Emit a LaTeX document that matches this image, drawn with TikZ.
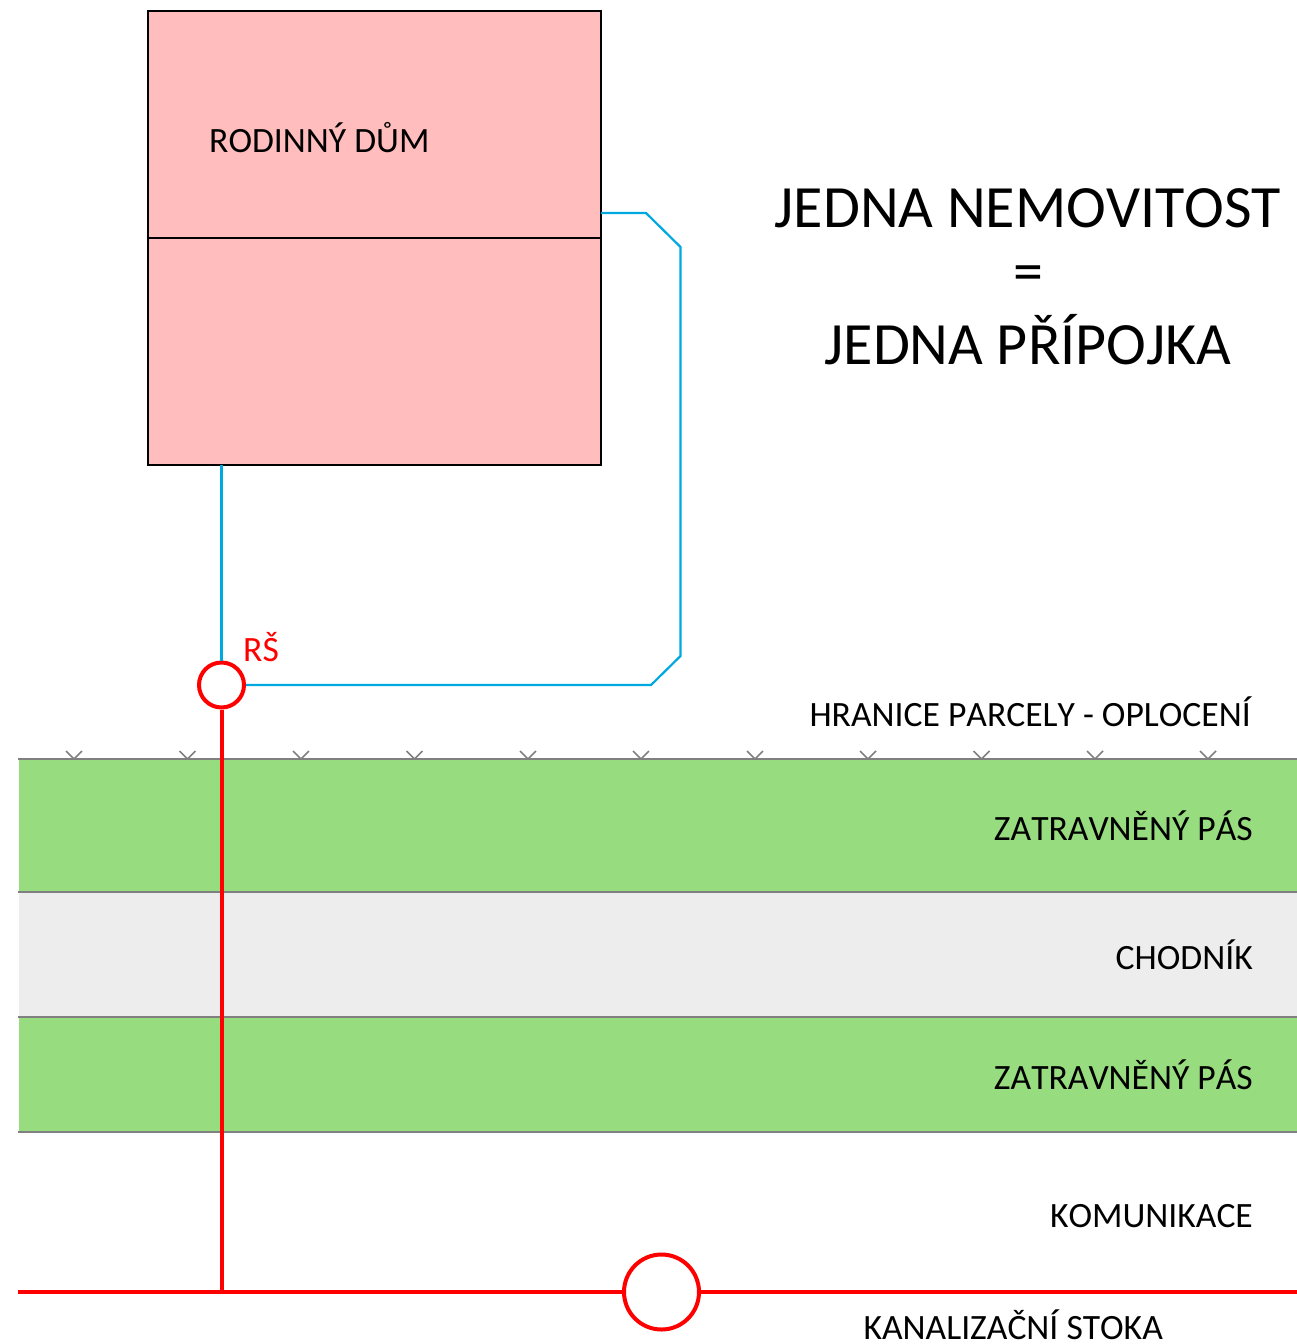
\documentclass[tikz,border=0pt]{standalone}
\usepackage{fontspec}
\setmainfont[Kerning=Off]{Carlito}
\definecolor{housefill}{HTML}{FFBDBD}
\definecolor{grassfill}{HTML}{98DC80}
\definecolor{walkfill}{HTML}{EDEDED}
\definecolor{pipeblue}{HTML}{00A8E0}
\definecolor{bandline}{HTML}{808080}
\tikzset{
  band/.style={draw=bandline,line width=1.5pt},
  label/.style={font=\fontsize{35.6}{42}\selectfont,anchor=base east,inner sep=0},
  title/.style={font=\fontsize{60}{70}\selectfont,anchor=base,inner sep=0},
  sewer/.style={draw=red,line width=4pt},
  pipe/.style={draw=pipeblue,line width=2.2pt},
  shaft/.style={circle,draw=red,fill=white,line width=4pt,inner sep=0,minimum size=45pt},
  tick/.style={draw=bandline,line width=1.5pt},
}
\begin{document}
\begin{tikzpicture}[x=1pt,y=-1pt]
  \useasboundingbox (0,0) rectangle (1297,1344);
  % house
  \node[draw,fill=housefill,line width=2pt,minimum width=453.5pt,minimum height=454pt,inner sep=0] (house) at (374.3,238) {};
  \draw[line width=2pt] (house.west) -- (house.east);
  \node[label,anchor=base west] (houselabel) at (209,152) {RODINNÝ DŮM};
  % title
  \node[title] (titletop) at (1028,227) {JEDNA NEMOVITOST};
  \node[title] (titleeq) at (1028,291) {=};
  \node[title] (titlebottom) at (1028,364) {JEDNA PŘÍPOJKA};
  % fence ticks
  \foreach \x in {74,187.5,301,414.5,528,641,755,868,981.5,1095,1208}
    \draw[tick] (\x-8,751) -- (\x,759) -- (\x+8,751);
  % strips
  \fill[grassfill] (19,759) rectangle (1297,892);
  \draw[band] (18,759) -- (1297,759) (18,892) -- (1297,892);
  \fill[walkfill] (19,892.8) rectangle (1297,1016.2);
  \fill[grassfill] (19,1017) rectangle (1297,1132);
  \draw[band] (18,1017) -- (1297,1017) (18,1132) -- (1297,1132);
  % strip labels
  \node[label] (fencelabel) at (1251,726) {HRANICE PARCELY - OPLOCENÍ};
  \node[label] (grassa) at (1253,840) {ZATRAVNĚNÝ PÁS};
  \node[label] (walk) at (1253,969) {CHODNÍK};
  \node[label] (grassb) at (1253,1089) {ZATRAVNĚNÝ PÁS};
  \node[label] (road) at (1253,1227) {KOMUNIKACE};
  \node[label] (sewerlabel) at (1163,1339.5) {KANALIZAČNÍ STOKA};
  % shafts and sewer
  \coordinate (sewerleft) at (18,1292);
  \coordinate (sewerright) at (1297,1292);
  \coordinate (sewerjoin) at (221.5,1292);
  \node[shaft] (rs) at (221.5,685) {};
  \node[shaft,minimum width=75pt,minimum height=75pt] (manhole) at (661.5,1292) {};
  \node[label,anchor=base west,text=red] (rslabel) at (243,661) {RŠ};
  \draw[sewer] (sewerleft) -- (manhole);
  \draw[sewer] (manhole) -- (sewerright);
  \draw[sewer] (rs) -- (sewerjoin);
  % house pipes
  \coordinate (pipeout) at (601,213);
  \coordinate (pipedown) at (221.5,465);
  \draw[pipe] (pipedown) -- (rs);
  \draw[pipe] (pipeout) -- (646,213) -- (680.5,247) -- (680.5,656) -- (651,685) -- (rs);
\end{tikzpicture}
\end{document}
